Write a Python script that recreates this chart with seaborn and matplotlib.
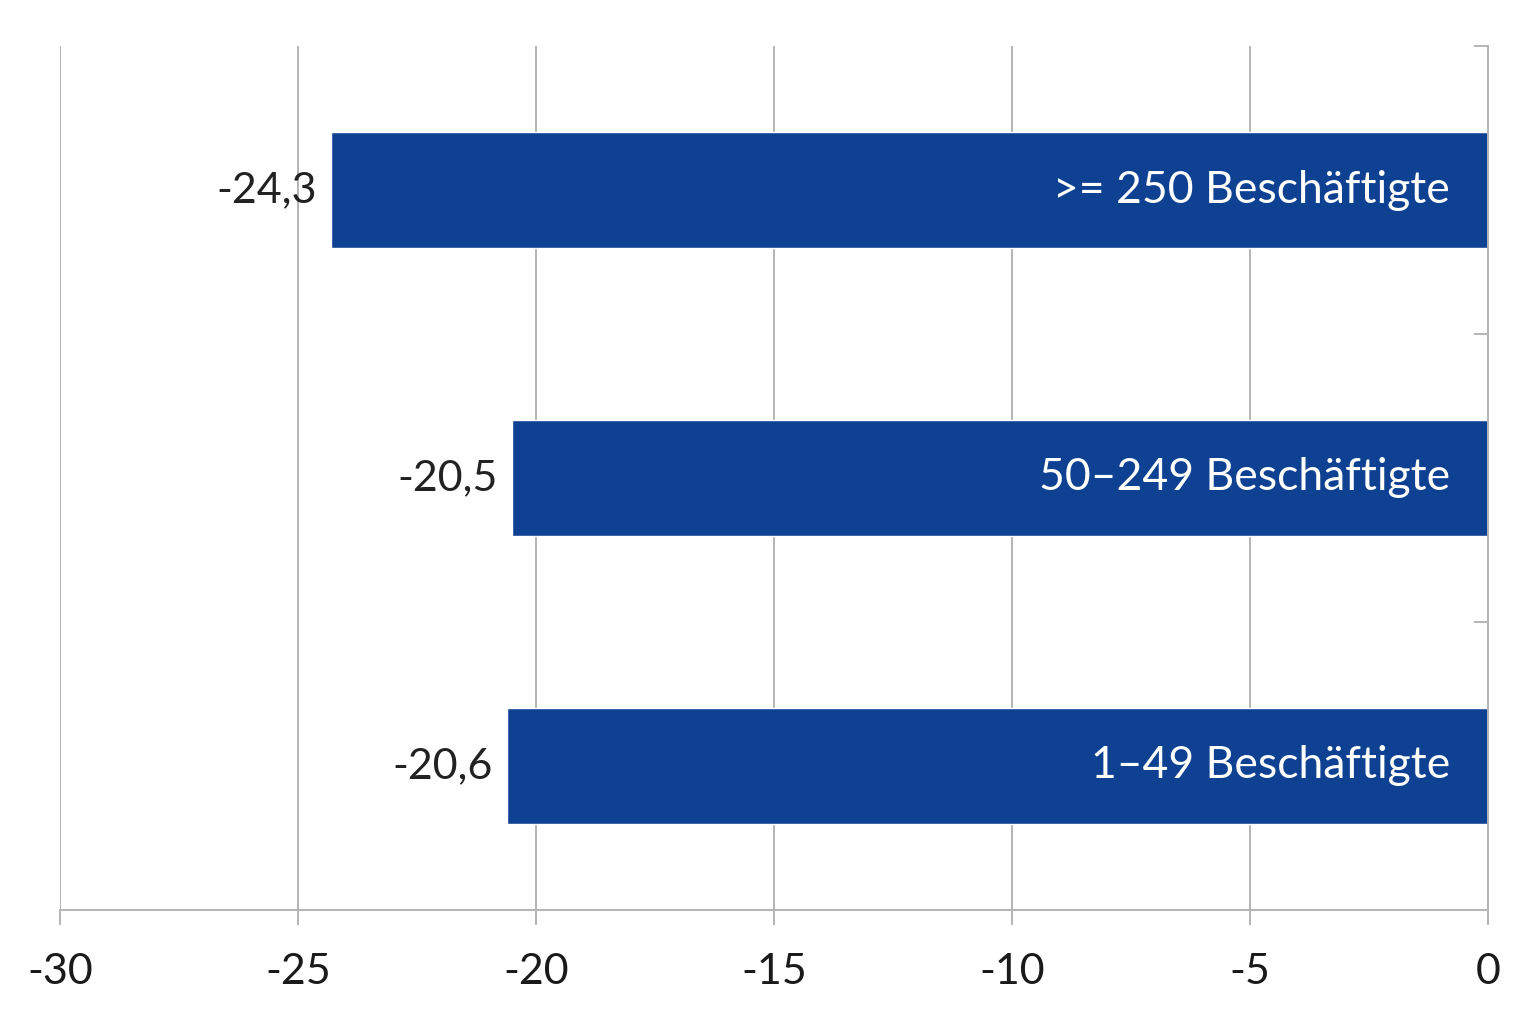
import matplotlib
matplotlib.use("Agg")
import matplotlib.pyplot as plt
import seaborn as sns
import pandas as pd
from matplotlib.ticker import FixedLocator

categories = [">= 250 Beschäftigte", "50–249 Beschäftigte", "1–49 Beschäftigte"]
values = [-24.3, -20.5, -20.6]
value_labels = ["-24,3", "-20,5", "-20,6"]
x_ticks = [-30, -25, -20, -15, -10, -5, 0]

df = pd.DataFrame({"cat": categories, "val": values})

sns.set_theme(style="white")
plt.rcParams['font.family'] = ['Lato', 'DejaVu Sans']

fig = plt.figure(figsize=(15.25, 10.09), dpi=100)
ax = fig.add_axes([60/1525, 99/1009, 1428/1525, 864/1009])

bar_color = "#0F4193"
sns.barplot(data=df, x="val", y="cat", order=categories, orient="h",
            color=bar_color, width=0.4, saturation=1, ax=ax, zorder=3)

ax.set_xlim(-30, 0)
ax.set_ylim(2.5, -0.5)
ax.set_xlabel("")
ax.set_ylabel("")

grid_c = "#B4B4B4"
ax.xaxis.set_major_locator(FixedLocator(x_ticks))
ax.set_xticklabels([str(t) for t in x_ticks], fontsize=31, color="#1a1a1a")
ax.grid(axis="x", color=grid_c, linewidth=1.4, zorder=0)
ax.grid(axis="y", visible=False)
ax.tick_params(axis="x", direction="out", length=11, width=1.4, color=grid_c,
               pad=20, bottom=True)

# y axis on the right
ax.set_yticks([])
ax.yaxis.set_minor_locator(FixedLocator([-0.5, 0.5, 1.5]))
ax.yaxis.tick_right()
ax.tick_params(axis="y", which="minor", direction="in", length=10, width=1.4,
               color=grid_c, right=True, left=False)

for s in ["top", "left"]:
    ax.spines[s].set_visible(False)
for s in ["bottom", "right"]:
    ax.spines[s].set_color(grid_c)
    ax.spines[s].set_linewidth(1.4)
    ax.spines[s].set_zorder(4)

for i, (c, v, lab) in enumerate(zip(categories, values, value_labels)):
    ax.text(v - 0.3, i, lab, ha="right", va="center", fontsize=31,
            fontweight="normal", color="#222222")
    ax.text(-0.8, i, c, ha="right", va="center", fontsize=32,
            fontweight="normal", color="white", zorder=5)

fig.savefig("out.png", dpi=100, facecolor="white")
